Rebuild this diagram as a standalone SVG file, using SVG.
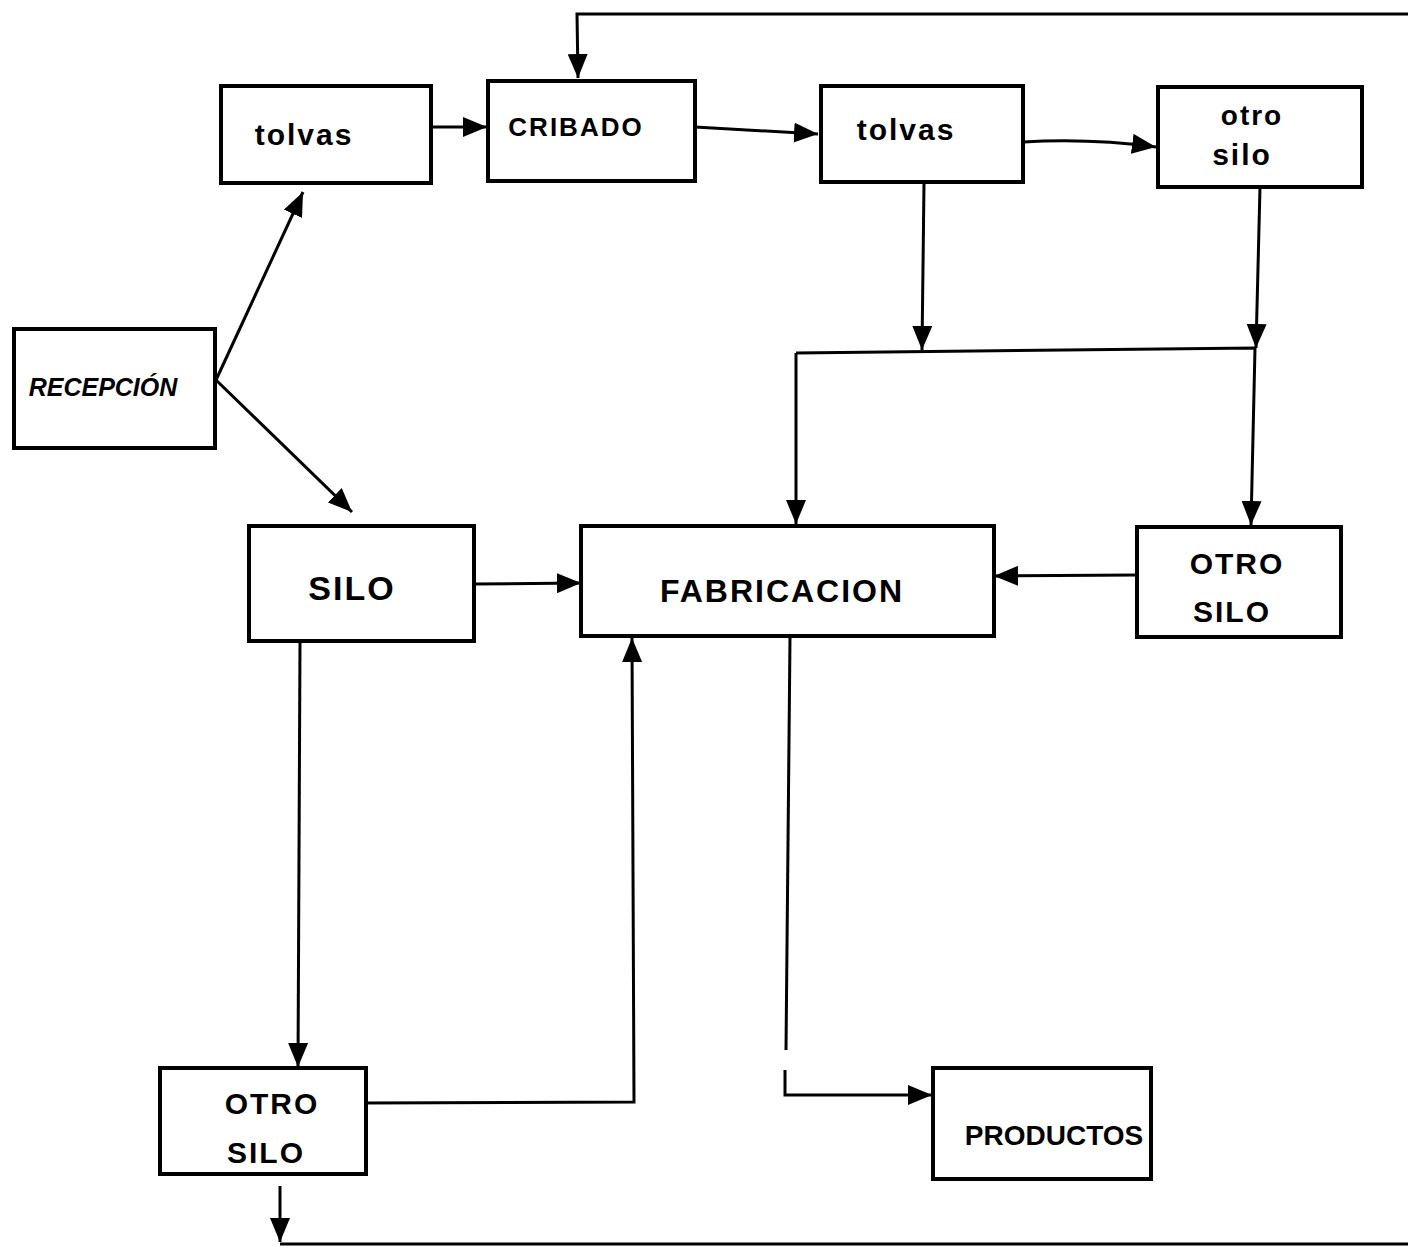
<svg xmlns="http://www.w3.org/2000/svg" width="1408" height="1249" viewBox="0 0 1408 1249">
<style>
.box{fill:#fff;stroke:#000;stroke-width:4}
.t{font-family:"Liberation Sans",Arial,sans-serif;font-size:30px;font-weight:bold;fill:#000;text-anchor:middle;letter-spacing:2px}
.c{fill:none;stroke:#000;stroke-width:3}
</style>
<defs>
<marker id="a" viewBox="0 0 24 20" refX="24" refY="10" markerWidth="24" markerHeight="20" markerUnits="userSpaceOnUse" orient="auto">
<path d="M0,0 L24,10 L0,20 Z" fill="#000"/>
</marker>
</defs>
<rect width="1408" height="1249" fill="#fff"/>
<g id="connectors">
<path class="c" d="M216,380 L303,192" marker-end="url(#a)"/>
<path class="c" d="M216,380 L352,512" marker-end="url(#a)"/>
<path class="c" d="M431,127 L487,127" marker-end="url(#a)"/>
<path class="c" d="M695,127 L818,134" marker-end="url(#a)"/>
<path class="c" d="M1023,142 Q1090,138 1156,147" marker-end="url(#a)"/>
<path class="c" d="M1408,14 L577,14 L578,78" marker-end="url(#a)"/>
<path class="c" d="M924,183 L922,350" marker-end="url(#a)"/>
<path class="c" d="M1260,187 L1256,348" marker-end="url(#a)"/>
<path class="c" d="M796,353 L1255,348 L1251,525" marker-end="url(#a)"/>
<path class="c" d="M796,353 L796,524" marker-end="url(#a)"/>
<path class="c" d="M1137,575 L994,576" marker-end="url(#a)"/>
<path class="c" d="M474,584 L581,583" marker-end="url(#a)"/>
<path class="c" d="M300,642 L298,1067" marker-end="url(#a)"/>
<path class="c" d="M366,1103 L634,1102 L632,638" marker-end="url(#a)"/>
<path class="c" d="M790,637 L786,1050"/>
<path class="c" d="M785,1070 L785,1095 L932,1095" marker-end="url(#a)"/>
<path class="c" d="M280,1186 L280,1242" marker-end="url(#a)"/>
<path class="c" d="M280,1244 L1408,1244"/>
</g>
<g id="recepcion"><rect class="box" x="14" y="329" width="201" height="119"/><text class="t" x="103" y="396" style="font-size:25px;letter-spacing:0px;font-style:italic">RECEPCIÓN</text></g>
<g id="tolvas1"><rect class="box" x="221" y="86" width="210" height="97"/><text class="t" x="304" y="145">tolvas</text></g>
<g id="cribado"><rect class="box" x="488" y="81" width="207" height="100"/><text class="t" x="576" y="136" style="font-size:26px">CRIBADO</text></g>
<g id="tolvas2"><rect class="box" x="821" y="86" width="202" height="96"/><text class="t" x="906" y="140">tolvas</text></g>
<g id="otrosilo1"><rect class="box" x="1158" y="87" width="204" height="100"/><text class="t" x="1252" y="125" style="font-size:28px">otro</text><text class="t" x="1242" y="165">silo</text></g>
<g id="silo"><rect class="box" x="249" y="526" width="225" height="115"/><text class="t" x="352" y="600" style="font-size:34px">SILO</text></g>
<g id="fabricacion"><rect class="box" x="581" y="526" width="413" height="110"/><text class="t" x="782" y="602" style="font-size:32px">FABRICACION</text></g>
<g id="otrosilo2"><rect class="box" x="1137" y="527" width="204" height="110"/><text class="t" x="1237" y="574">OTRO</text><text class="t" x="1232" y="622">SILO</text></g>
<g id="otrosilo3"><rect class="box" x="160" y="1068" width="206" height="106"/><text class="t" x="272" y="1114">OTRO</text><text class="t" x="266" y="1163">SILO</text></g>
<g id="productos"><rect class="box" x="933" y="1068" width="218" height="111"/><text class="t" x="1054" y="1145" style="font-size:28px;letter-spacing:0px">PRODUCTOS</text></g>
</svg>
